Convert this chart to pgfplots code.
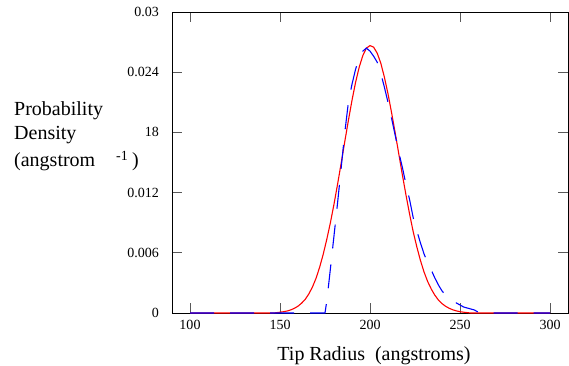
\documentclass[border=0pt]{standalone}
\usepackage{fontspec}
\setmainfont{Liberation Serif}
\usepackage{pgfplots}
\pgfplotsset{compat=1.18}
\begin{document}
\begin{tikzpicture}
\begin{axis}[
  scale only axis,
  width=396pt, height=301pt,
  xmin=90, xmax=310, ymin=0, ymax=0.03,
  axis line style={black, line width=0.9pt},
  tick style={black!65, line width=0.9pt},
  major tick length=10pt,
  tick align=inside,
  xtick={100,150,200,250,300},
  xticklabels={100,150,200,250,300},
  ytick={0,0.006,0.012,0.018,0.024,0.03},
  yticklabels={0,0.006,0.012,18,0.024,0.03},
  xticklabel style={font=\fontsize{14}{16}\selectfont, inner sep=0pt, anchor=north, yshift=-7pt},
  yticklabel style={font=\fontsize{14}{16}\selectfont, inner sep=0pt, anchor=east, xshift=-13pt},
  scaled y ticks=false,
  clip=false,
]
\addplot[red, line width=1.1pt] coordinates {
(100,0) (146,0) (148,0.00003) (150,0.00008) (152,0.00013) (154,0.00020) (156,0.00031) (158,0.00047)
(160,0.00068) (162,0.00098) (164,0.00136) (166,0.00190) (168,0.00258) (170,0.00345) (172,0.00455)
(174,0.00585) (176,0.00735) (178,0.00900) (180,0.01085) (182,0.01285) (184,0.01495) (186,0.01710)
(188,0.01920) (190,0.02120) (192,0.02300) (194,0.02450) (196,0.02565) (198,0.02640) (200,0.02665)
(202,0.02650) (204,0.02590) (206,0.02490) (208,0.02350) (210,0.02185) (212,0.01995) (214,0.01795)
(216,0.01585) (218,0.01375) (220,0.01175) (222,0.00985) (224,0.00810) (226,0.00660) (228,0.00525)
(230,0.00410) (232,0.00315) (234,0.00240) (236,0.00178) (238,0.00130) (240,0.00094) (242,0.00067)
(244,0.00047) (246,0.00032) (248,0.00021) (250,0.00013) (252,0.00008) (254,0.00004) (256,0) (300,0)
};
\addplot[blue, line width=1.1pt, dash pattern=on 24pt off 16pt] coordinates {
(100,0) (175,0) (176,0.0012) (178,0.0044) (180,0.0077) (182,0.0110) (184,0.0145) (186,0.0180)
(188,0.0210) (190,0.0228) (192,0.0243) (194,0.0254) (196,0.0261) (198,0.0264) (200,0.0261)
(202,0.0256) (204,0.0250) (206,0.0239) (208,0.0225) (210,0.0210) (212,0.0194) (214,0.0177)
(216,0.0160) (218,0.0145) (220,0.0128) (222,0.0113) (224,0.0095) (226,0.0082) (228,0.0070)
(230,0.0059) (232,0.0050) (234,0.0043) (236,0.0035) (238,0.0028) (240,0.0022) (242,0.0018)
(244,0.0015) (246,0.0012) (248,0.0010) (250,0.0008) (252,0.0006) (254,0.0005) (256,0.0004)
(258,0.0003) (260,0.0001) (262,0) (300,0)
};
\end{axis}
\node[anchor=base west, inner sep=0pt, font=\fontsize{20}{24}\selectfont] at (-158pt,198pt) {Probability};
\node[anchor=base west, inner sep=0pt, font=\fontsize{20}{24}\selectfont] at (-158pt,174pt) {Density};
\node[anchor=base west, inner sep=0pt, font=\fontsize{20}{24}\selectfont] at (-158pt,147pt) {(angstrom};
\node[anchor=base west, inner sep=0pt, font=\fontsize{14}{16}\selectfont] at (-56pt,153pt) {-1};
\node[anchor=base west, inner sep=0pt, font=\fontsize{20}{24}\selectfont] at (-40pt,147pt) {)};
\node[anchor=base, inner sep=0pt, font=\fontsize{20}{24}\selectfont] at (202pt,-47pt) {Tip Radius\ \ (angstroms)};
\pgfresetboundingbox
\path[use as bounding box] (-172pt,-52pt) rectangle (397pt,313pt);
\end{tikzpicture}
\end{document}
